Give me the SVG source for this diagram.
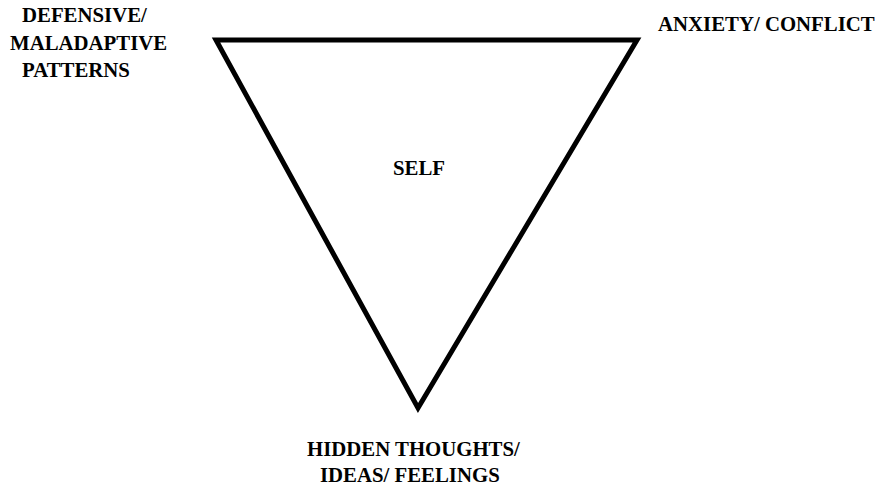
<svg xmlns="http://www.w3.org/2000/svg" width="882" height="486" viewBox="0 0 882 486">
<style>
.t{font-family:"Liberation Serif","Times New Roman",serif;font-weight:bold;font-size:20.8px;fill:#000}
</style>
<rect width="882" height="486" fill="#fff"/>
<g id="connectors">
<polygon points="216,40 637,40 418,408" fill="none" stroke="#000" stroke-width="5" stroke-linejoin="miter"/>
</g>
<g id="self"><text class="t" x="419" y="175" text-anchor="middle">SELF</text></g>
<g id="defensive">
<text class="t" x="22" y="22">DEFENSIVE/</text>
<text class="t" x="10" y="50">MALADAPTIVE</text>
<text class="t" x="22" y="77">PATTERNS</text>
</g>
<g id="anxiety"><text class="t" x="658" y="31">ANXIETY/ CONFLICT</text></g>
<g id="hidden">
<text class="t" x="307" y="456">HIDDEN THOUGHTS/</text>
<text class="t" x="320" y="482">IDEAS/ FEELINGS</text>
</g>
</svg>
